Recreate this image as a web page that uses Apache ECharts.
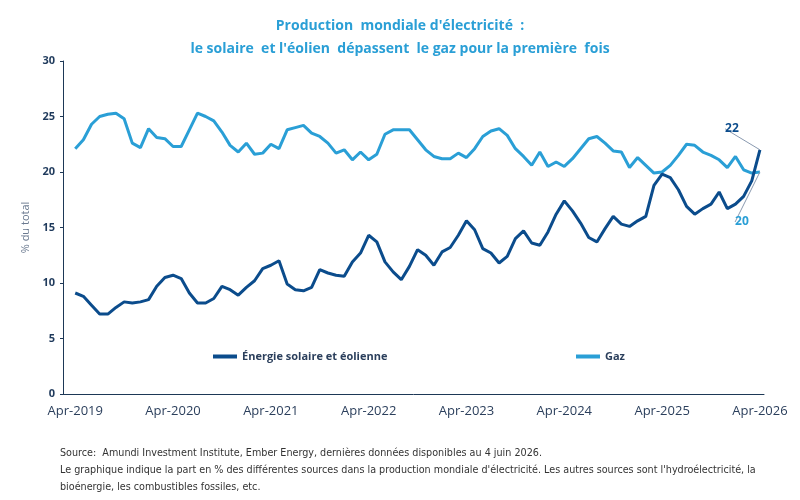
<!DOCTYPE html>
<html>
<head>
<meta charset="utf-8">
<script src="https://cdn.jsdelivr.net/npm/echarts@6/dist/echarts.min.js"></script>
<style>
  html, body { margin: 0; padding: 0; background: #fff; }
  #chart { width: 800px; height: 500px; }
</style>
</head>
<body>
<div id="chart"></div>
<script>
// share of world electricity production, monthly Apr-2019 .. Apr-2026 (% of total)
var monthNames = ['Jan', 'Feb', 'Mar', 'Apr', 'May', 'Jun', 'Jul', 'Aug', 'Sep', 'Oct', 'Nov', 'Dec'];
var startYear = 2019;
var startMonth = 3; // Apr
var solarWind = [
  9.1, 8.8, 8.0, 7.2, 7.2, 7.8, 8.3, 8.2, 8.3, 8.5, 9.7, 10.5,
  10.7, 10.4, 9.1, 8.2, 8.2, 8.6, 9.7, 9.4, 8.9, 9.6, 10.2, 11.3,
  11.6, 12.0, 9.9, 9.4, 9.3, 9.6, 11.2, 10.9, 10.7, 10.6, 11.9, 12.7,
  14.3, 13.7, 11.9, 11.0, 10.3, 11.5, 13.0, 12.5, 11.6, 12.8, 13.2, 14.3,
  15.6, 14.8, 13.1, 12.7, 11.8, 12.4, 14.0, 14.7, 13.6, 13.4, 14.6, 16.2,
  17.4, 16.5, 15.4, 14.1, 13.7, 14.9, 16.0, 15.3, 15.1, 15.6, 16.0, 18.8,
  19.8, 19.5, 18.4, 16.9, 16.2, 16.7, 17.1, 18.2, 16.7, 17.1, 17.8, 19.2,
  22.0
];
var gas = [
  22.1, 22.9, 24.3, 25.0, 25.2, 25.3, 24.8, 22.6, 22.2, 23.9, 23.1, 23.0,
  22.3, 22.3, 23.8, 25.3, 25.0, 24.6, 23.6, 22.4, 21.8, 22.6, 21.6, 21.7,
  22.5, 22.1, 23.8, 24.0, 24.2, 23.5, 23.2, 22.6, 21.7, 22.0, 21.1, 21.8,
  21.1, 21.6, 23.4, 23.8, 23.8, 23.8, 22.9, 22.0, 21.4, 21.2, 21.2, 21.7,
  21.3, 22.1, 23.2, 23.7, 23.9, 23.3, 22.1, 21.4, 20.6, 21.8, 20.5, 20.9,
  20.5, 21.2, 22.1, 23.0, 23.2, 22.6, 21.9, 21.8, 20.4, 21.3, 20.6, 19.9,
  20.0, 20.6, 21.5, 22.5, 22.4, 21.8, 21.5, 21.1, 20.4, 21.4, 20.2, 19.9,
  20.0
];
var seriesNames = ['Énergie solaire et éolienne', 'Gaz'];
var titleLines = [
  "Production  mondiale d'électricité  :",
  "le solaire  et l'éolien  dépassent  le gaz pour la première  fois"
];

var months = [];
for (var i = 0; i < solarWind.length; i++) {
  var m = startMonth + i;
  months.push(monthNames[m % 12] + '-' + (startYear + Math.floor(m / 12)));
}

// one empty slot before the first month so the y axis sits a little left of the data
var categories = [''].concat(months);
function withPad(arr) {
  var out = ['-'].concat(arr.slice(0, arr.length - 1));
  out.push({ value: arr[arr.length - 1], label: { show: true } });
  return out;
}

var darkBlue = '#0b4c8c';
var lightBlue = '#2a9fd6';
var axisColor = '#1d3856';
var font = '"Open Sans", "Noto Sans", sans-serif';

var chart = echarts.init(document.getElementById('chart'), null, { renderer: 'canvas' });
var option = {
  backgroundColor: '#fff',
  animation: false,
  textStyle: { fontFamily: font },
  title: [
    {
      text: titleLines[0], left: 'center', top: 14,
      textStyle: { color: lightBlue, fontSize: 14, fontWeight: 'bold', fontFamily: font }
    },
    {
      text: titleLines[1], left: 'center', top: 37,
      textStyle: { color: lightBlue, fontSize: 14, fontWeight: 'bold', fontFamily: font }
    }
  ],
  legend: [
    {
      data: [seriesNames[0]], left: 208, top: 346,
      itemWidth: 24, itemHeight: 4, icon: 'rect',
      textStyle: { color: '#2b3f5c', fontSize: 11, fontWeight: 'bold', fontFamily: font }
    },
    {
      data: [seriesNames[1]], left: 571, top: 346,
      itemWidth: 24, itemHeight: 4, icon: 'rect',
      textStyle: { color: '#2b3f5c', fontSize: 11, fontWeight: 'bold', fontFamily: font }
    }
  ],
  grid: { left: 63, right: 36, top: 61, bottom: 106 },
  xAxis: {
    type: 'category',
    boundaryGap: true,
    data: categories,
    axisLine: { lineStyle: { color: axisColor, width: 1 } },
    axisTick: {
      length: 5,
      lineStyle: { color: axisColor },
      interval: function (idx) { return (idx - 1) % 3 === 0; }
    },
    axisLabel: {
      color: '#2b3f5c', fontSize: 13, margin: 11, fontFamily: font,
      interval: function (idx) { return idx > 0 && (idx - 1) % 12 === 0; }
    },
    splitLine: { show: false }
  },
  yAxis: {
    type: 'value',
    min: 0, max: 30, interval: 5,
    name: '% du total',
    nameLocation: 'middle',
    nameGap: 29,
    nameTextStyle: { color: '#6b7a90', fontSize: 11, fontFamily: font },
    axisLine: { show: true, lineStyle: { color: axisColor, width: 1 } },
    axisTick: { show: true, length: 3, lineStyle: { color: axisColor } },
    axisLabel: { color: '#1f3a5c', fontSize: 11, fontWeight: 'bold', margin: 8, fontFamily: font },
    splitLine: { show: false }
  },
  series: [
    {
      name: seriesNames[0],
      type: 'line',
      data: withPad(solarWind),
      showSymbol: true,
      symbol: 'circle',
      symbolSize: 0,
      lineStyle: { color: darkBlue, width: 3 },
      itemStyle: { color: darkBlue },
      z: 3,
      label: {
        show: false, position: 'top', formatter: '{c}',
        color: darkBlue, fontWeight: 'bold', fontSize: 12, fontFamily: font
      },
      labelLine: { show: true, lineStyle: { color: '#8a9ab0', width: 1 } },
      labelLayout: { dx: -28, dy: -10 }
    },
    {
      name: seriesNames[1],
      type: 'line',
      data: withPad(gas),
      showSymbol: true,
      symbol: 'circle',
      symbolSize: 0,
      lineStyle: { color: lightBlue, width: 3 },
      itemStyle: { color: lightBlue },
      z: 2,
      label: {
        show: false, position: 'bottom', formatter: '{c}',
        color: lightBlue, fontWeight: 'bold', fontSize: 12, fontFamily: font
      },
      labelLine: { show: true, lineStyle: { color: '#8a9ab0', width: 1 } },
      labelLayout: { dx: -18, dy: 39 }
    }
  ],
  graphic: [
    {
      type: 'text', left: 60, top: 445,
      style: {
        text: 'Source:  Amundi Investment Institute, Ember Energy, dernières données disponibles au 4 juin 2026.\n' +
              "Le graphique indique la part en % des différentes sources dans la production mondiale d'électricité. Les autres sources sont l'hydroélectricité, la\n" +
              'bioénergie, les combustibles fossiles, etc.',
        fill: '#333333',
        fontSize: 10.7,
        lineHeight: 17,
        fontFamily: '"Liberation Sans Narrow", "DejaVu Sans Condensed", sans-serif'
      }
    }
  ]
};
chart.setOption(option);
</script>
</body>
</html>
